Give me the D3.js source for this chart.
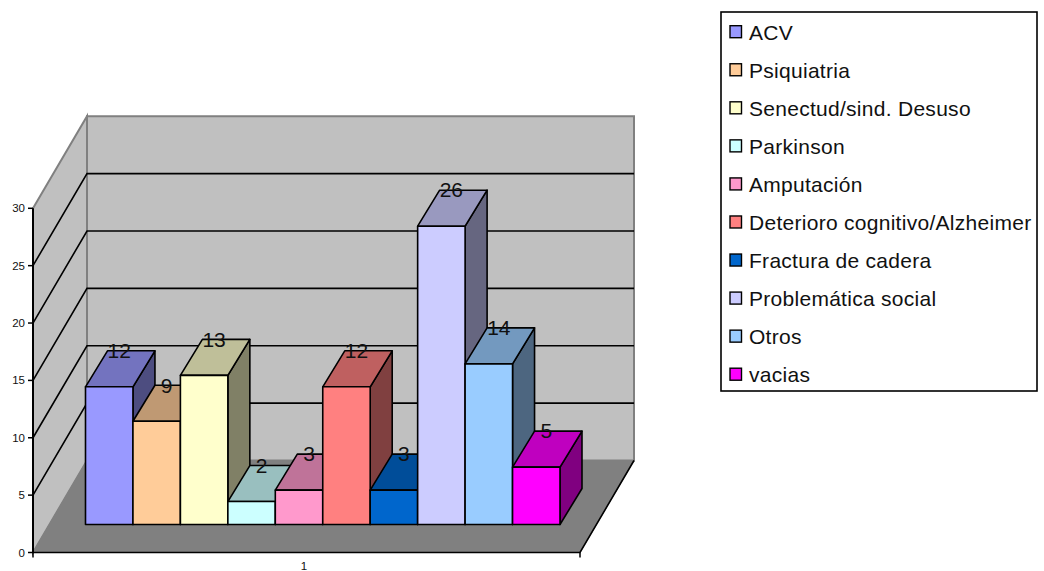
<!DOCTYPE html>
<html lang="es">
<head>
<meta charset="utf-8">
<title>Distribución por diagnóstico</title>
<script src="https://cdn.jsdelivr.net/npm/d3@7/dist/d3.min.js"></script>
<style>
  html, body { margin: 0; padding: 0; background: #fff; overflow: hidden; }
  svg { display: block; font-family: "Liberation Sans", Arial, sans-serif; }
</style>
</head>
<body>
<svg id="chart" width="1044" height="571"></svg>
<script>
// Diagnostic groups and their counts
const categories = ["ACV", "Psiquiatria", "Senectud/sind. Desuso", "Parkinson", "Amputación",
  "Deterioro cognitivo/Alzheimer", "Fractura de cadera", "Problemática social", "Otros", "vacias"];
const values = [12, 9, 13, 2, 3, 12, 3, 26, 14, 5];
const colors = ["#9999FF", "#FFCC99", "#FFFFCC", "#CCFFFF", "#FF99CC",
  "#FF8080", "#0066CC", "#CCCCFF", "#99CCFF", "#FF00FF"];
const yTicks = [0, 5, 10, 15, 20, 25, 30];
const xTickLabels = ["1"];

const svg = d3.select("#chart");

// Front plane of the 3D box: x runs along the floor's front edge, y up the value axis
const frontLeft = 33, frontRight = 580, frontBase = 552.5;
const y = d3.scaleLinear().domain([0, 30]).range([frontBase, 208.3]);
const wallDepth = [54, -92];      // offset from front plane to back wall
const barInset = [15.8, -28];     // offset from front plane to the face of the bars
const barDepth = [22, -36];       // front-to-back extent of one bar

const x = d3.scaleBand().domain(categories).range([85.5 - barInset[0], 560 - barInset[0]]);

const shift = (o, k = 1) => ([px, py]) => [px + o[0] * k, py + o[1] * k];
const toBack = shift(wallDepth);
const path = pts => "M" + pts.map(p => p.join(",")).join("L") + "Z";
const line = d3.line();

const plot = svg.append("g");

// Left wall, back wall and floor
const corner = (px, v) => [px, y(v)];
plot.append("path")
  .attr("d", path([corner(frontLeft, 0), corner(frontLeft, 30), toBack(corner(frontLeft, 30)), toBack(corner(frontLeft, 0))]))
  .attr("fill", "#C0C0C0").attr("stroke", "#808080").attr("stroke-width", 2);
plot.append("path")
  .attr("d", path([toBack(corner(frontLeft, 0)), toBack(corner(frontLeft, 30)), toBack(corner(frontRight, 30)), toBack(corner(frontRight, 0))]))
  .attr("fill", "#C0C0C0").attr("stroke", "#808080").attr("stroke-width", 2);
plot.append("path")
  .attr("d", path([corner(frontLeft, 0), corner(frontRight, 0), toBack(corner(frontRight, 0)), toBack(corner(frontLeft, 0))]))
  .attr("fill", "#808080").attr("stroke", "#808080").attr("stroke-width", 1);

// Gridlines wrap from the value axis across the left wall and along the back wall
plot.append("g").selectAll("path")
  .data(yTicks.filter(t => t > 0 && t < 30))
  .join("path")
  .attr("d", t => line([corner(frontLeft, t), toBack(corner(frontLeft, t)), toBack(corner(frontRight, t))]))
  .attr("fill", "none").attr("stroke", "#000").attr("stroke-width", 1.6);

// Front and right edges of the floor
plot.append("path")
  .attr("d", line([corner(frontLeft, 0), corner(frontRight, 0), toBack(corner(frontRight, 0))]))
  .attr("fill", "none").attr("stroke", "#000").attr("stroke-width", 1.6);

// Value axis
const axisG = plot.append("g");
axisG.append("line")
  .attr("x1", frontLeft).attr("x2", frontLeft)
  .attr("y1", y(0)).attr("y2", y(30))
  .attr("stroke", "#000").attr("stroke-width", 2);
axisG.selectAll("line.tick").data(yTicks).join("line").attr("class", "tick")
  .attr("x1", frontLeft - 5).attr("x2", frontLeft)
  .attr("y1", d => y(d)).attr("y2", d => y(d))
  .attr("stroke", "#000").attr("stroke-width", 1.5);
axisG.selectAll("text").data(yTicks).join("text")
  .attr("x", frontLeft - 8).attr("y", d => y(d) + 4)
  .attr("text-anchor", "end").attr("font-size", 11.5).attr("fill", "#111")
  .text(d => d);

// Ticks and category label under the front edge
[frontLeft, frontRight].forEach(px => {
  plot.append("line").attr("x1", px).attr("x2", px)
    .attr("y1", frontBase).attr("y2", frontBase + 5)
    .attr("stroke", "#000").attr("stroke-width", 1.5);
});
plot.append("text").data(xTickLabels)
  .attr("x", (frontLeft + frontRight) / 2 - 2.5).attr("y", 570)
  .attr("text-anchor", "middle").attr("font-size", 11.5).attr("fill", "#111")
  .text(d => d);

// Bars, painted left to right so each one covers its neighbour's side face
const shade = (c, k) => { const r = d3.rgb(c); return d3.rgb(r.r * k, r.g * k, r.b * k).formatHex(); };
const rows = categories.map((name, i) => ({ name, value: values[i], color: colors[i] }));

// Bars stand on an inset floor line, so their value is measured from that line
const barBase = frontBase + barInset[1];
const barPx = v => barBase - (y(0) - y(v));

const bars = plot.append("g").selectAll("g").data(rows).join("g")
  .attr("stroke", "#000").attr("stroke-width", 1.6).attr("stroke-linejoin", "round");

bars.each(function (d) {
  const g = d3.select(this);
  const x0 = x(d.name) + barInset[0], x1 = x0 + x.bandwidth();
  const top = barPx(d.value);
  const back = shift(barDepth);
  g.append("path").attr("fill", shade(d.color, 0.5))
    .attr("d", path([[x1, barBase], [x1, top], back([x1, top]), back([x1, barBase])]));
  g.append("path").attr("fill", shade(d.color, 0.75))
    .attr("d", path([[x0, top], [x1, top], back([x1, top]), back([x0, top])]));
  g.append("path").attr("fill", d.color)
    .attr("d", path([[x0, barBase], [x1, barBase], [x1, top], [x0, top]]));
});

// Value labels sit on the rear edge of each bar's top
plot.append("g").selectAll("text").data(rows).join("text")
  .attr("x", d => x(d.name) + barInset[0] + x.bandwidth() / 2 + barDepth[0] / 2 - 1)
  .attr("y", d => barPx(d.value) + barDepth[1] + 7.3)
  .attr("text-anchor", "middle").attr("font-size", 21).attr("fill", "#111")
  .text(d => d.value);

// Legend
const legendRow = d3.scalePoint().domain(categories).range([32, 374.5]);
const legend = svg.append("g");
legend.append("rect")
  .attr("x", 721).attr("y", 12).attr("width", 316).attr("height", 379)
  .attr("fill", "#fff").attr("stroke", "#000").attr("stroke-width", 1.6);
const item = legend.selectAll("g").data(rows).join("g")
  .attr("transform", d => `translate(0,${legendRow(d.name)})`);
item.append("rect")
  .attr("x", 730).attr("y", -6.3).attr("width", 11.5).attr("height", 12)
  .attr("fill", d => d.color).attr("stroke", "#000").attr("stroke-width", 1.4);
item.append("text")
  .attr("x", 749).attr("y", 7.5)
  .attr("font-size", 21).attr("letter-spacing", 0.28).attr("fill", "#111")
  .text(d => d.name);
</script>
</body>
</html>
